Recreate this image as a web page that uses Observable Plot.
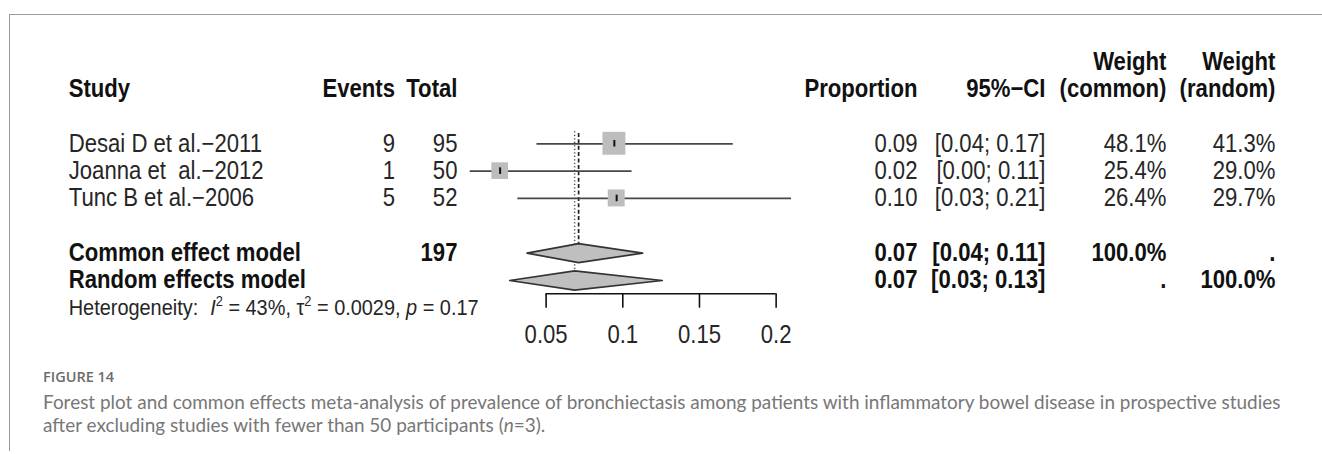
<!DOCTYPE html>
<html><head><meta charset="utf-8">
<script src="https://cdn.jsdelivr.net/npm/d3@7"></script>
<script src="https://cdn.jsdelivr.net/npm/@observablehq/plot@0.6"></script>
<style>
html,body{margin:0;padding:0;background:#fff;overflow:hidden;width:1322px;height:454px;}
#frame{position:absolute;left:9px;top:14px;width:1313px;height:436px;border-top:1px solid #9a9a9a;border-left:1px solid #9a9a9a;}
#chart{position:absolute;left:0;top:0;width:1600px;height:360px;overflow:visible;}
#chart svg{transform-origin:0 0;display:block;max-width:none !important;}
#fig{position:absolute;left:43px;top:367px;font-family:"Open Sans",sans-serif;font-weight:600;font-size:14.5px;line-height:20px;color:#6b6b6b;white-space:nowrap;}
#cap{position:absolute;left:43px;top:390px;font-family:Lato,sans-serif;font-size:18.95px;line-height:23.3px;color:#777;white-space:nowrap;}
</style></head><body>
<div id="frame"></div>
<div id="chart"></div>
<div id="fig">FIGURE 14</div>
<div id="cap">Forest plot and common effects meta-analysis of prevalence of bronchiectasis among patients with inflammatory bowel disease in prospective studies<br>after excluding studies with fewer than 50 participants (<i>n</i>=3).</div>
<script>
// ---- data ----
const studies = ["Desai D et al.\u22122011", "Joanna et\u00a0 al.\u22122012", "Tunc B et al.\u22122006"];
const events = [9, 1, 5];
const totals = [95, 50, 52];
const proportions = [0.0945, 0.0200, 0.0960];
const ciLower = [0.0440, 0.0005, 0.0315];
const ciUpper = [0.1720, 0.1060, 0.2100];
const weightCommon = [48.1, 25.4, 26.4];
const weightRandom = [41.3, 29.0, 29.7];

const models = ["Common effect model", "Random effects model"];
const modelTotals = ["197", ""];
const modelEst = [0.0712, 0.0686];
const modelLower = [0.0375, 0.0262];
const modelUpper = [0.1130, 0.1258];
const modelWeightCommon = ["100.0%", "."];
const modelWeightRandom = [".", "100.0%"];

const axisTicks = [0.05, 0.1, 0.15, 0.2];
const tickLabels = ["0.05", "0.1", "0.15", "0.2"];

const headers = ["Study", "Events", "Total", "Proportion", "95%\u2212CI", "(common)", "(random)"];
const headerTop = ["Weight", "Weight"];
const hetPlain = "Heterogeneity: I2 = 43%, \u03c42 = 0.0029, p = 0.17";

// ---- layout ----
const sx = 0.885;               // horizontal compression of the drawing
const W = 1322, H = 360;
const px = v => v / sx;
const X0 = 469.0, X1 = 775.7;   // pixel positions of 0 and 0.2
const pxPerUnit = (X1 - X0) / 0.2;
const rowPx = 27.34;
const Y0 = 88.6;
const fs = 25, fsHet = 22.5;
const reg = "#262626", bold = "#111";

const studyData = studies.map((s, i) => ({
  row: 2 + i, name: s, events: String(events[i]), total: String(totals[i]),
  est: proportions[i], lo: ciLower[i], hi: ciUpper[i],
  prop: proportions[i].toFixed(2),
  ci: `[${ciLower[i].toFixed(2)}; ${ciUpper[i].toFixed(2)}]`,
  wc: weightCommon[i].toFixed(1) + "%", wr: weightRandom[i].toFixed(1) + "%",
  side: 3.3 * Math.sqrt(weightCommon[i])
}));
const modelData = models.map((m, i) => ({
  row: 6 + i, name: m, total: modelTotals[i], est: modelEst[i], lo: modelLower[i], hi: modelUpper[i],
  prop: modelEst[i].toFixed(2), ci: `[${modelLower[i].toFixed(2)}; ${modelUpper[i].toFixed(2)}]`,
  wc: modelWeightCommon[i], wr: modelWeightRandom[i]
}));
const dh = 0.35;
const diamondPts = modelData.flatMap(d => [
  {m: d.name, x: d.lo, y: d.row}, {m: d.name, x: d.est, y: d.row - dh},
  {m: d.name, x: d.hi, y: d.row}, {m: d.name, x: d.est, y: d.row + dh}
]);
const headerData = [{row: 0}];

function col(data, text, pos, anchor, weight, size) {
  return Plot.text(data, {
    y: "row", text, frameAnchor: "left", dx: px(pos), textAnchor: anchor,
    fontWeight: weight, fill: weight === "bold" ? bold : reg, fontSize: size || fs
  });
}

const axisRow = 7.487, tickEnd = 8.013, tickLabelRow = 9.0;

const plot = Plot.plot({
  width: W / sx, height: H,
  marginLeft: 0, marginRight: 0, marginTop: 0, marginBottom: 0,
  x: {domain: [0, 0.2], range: [px(X0), px(X1)], axis: null},
  y: {domain: [0, 7], range: [Y0, Y0 + 7 * rowPx], axis: null},
  style: {fontFamily: "'Liberation Sans', Arial, Helvetica, sans-serif", background: "transparent", overflow: "visible"},
  marks: [
    // reference lines
    Plot.ruleX([modelEst[1]], {x: d => d, y1: 1.56, y2: 7 - dh, stroke: "#555", strokeWidth: 1.5 / sx, strokeDasharray: "1.3,2.2"}),
    Plot.ruleX([modelEst[0]], {x: d => d, y1: 1.62, y2: 6 - dh, stroke: "#222", strokeWidth: 1.7 / sx, strokeDasharray: "4,2.4"}),
    // study CIs and squares
    Plot.ruleY(studyData, {y: "row", x1: "lo", x2: "hi", stroke: "#474747", strokeWidth: 1.8}),
    Plot.rect(studyData, {
      x1: d => d.est - d.side / 2 / pxPerUnit, x2: d => d.est + d.side / 2 / pxPerUnit,
      y1: d => d.row - d.side / 2 / rowPx, y2: d => d.row + d.side / 2 / rowPx,
      fill: "#bdbdbd"
    }),
    Plot.ruleX(studyData, {x: "est", y1: d => d.row - 0.12, y2: d => d.row + 0.12, stroke: "#111", strokeWidth: 2 / sx}),
    // diamonds
    Plot.line(diamondPts, {x: "x", y: "y", z: "m", curve: "linear-closed", fill: "#bfbfbf", stroke: "#333", strokeWidth: 1.7}),
    // axis
    Plot.ruleY([axisRow], {x1: axisTicks[0], x2: axisTicks[axisTicks.length - 1], stroke: "#111", strokeWidth: 1.6}),
    Plot.ruleX(axisTicks, {x: d => d, y1: axisRow, y2: tickEnd, stroke: "#111", strokeWidth: 1.6 / sx}),
    Plot.text(axisTicks, {x: d => d, y: tickLabelRow, text: (d, i) => tickLabels[i], fontSize: fs, fill: reg}),
    // headers
    col([{row: -1}], () => headerTop[0], 1166, "end", "bold"),
    col([{row: -1}], () => headerTop[1], 1275, "end", "bold"),
    col(headerData, () => headers[0], 68.3, "start", "bold"),
    col(headerData, () => headers[1], 394.5, "end", "bold"),
    col(headerData, () => headers[2], 457, "end", "bold"),
    col(headerData, () => headers[3], 917, "end", "bold"),
    col(headerData, () => headers[4], 1045, "end", "bold"),
    col(headerData, () => headers[5], 1166, "end", "bold"),
    col(headerData, () => headers[6], 1275, "end", "bold"),
    // study rows
    col(studyData, "name", 68.3, "start", "normal"),
    col(studyData, "events", 394.5, "end", "normal"),
    col(studyData, "total", 457, "end", "normal"),
    col(studyData, "prop", 917, "end", "normal"),
    col(studyData, "ci", 1045, "end", "normal"),
    col(studyData, "wc", 1166, "end", "normal"),
    col(studyData, "wr", 1275, "end", "normal"),
    // model rows
    col(modelData, "name", 68.3, "start", "bold"),
    col(modelData, "total", 457, "end", "bold"),
    col(modelData, "prop", 917, "end", "bold"),
    col(modelData, "ci", 1045, "end", "bold"),
    col(modelData, "wc", 1166, "end", "bold"),
    col(modelData, "wr", 1275, "end", "bold"),
    // heterogeneity
    col([{row: 8}], () => hetPlain, 68.3, "start", "normal", fsHet)
  ]
});
plot.style.maxWidth = "none";
plot.style.width = (W / sx) + "px";
plot.style.height = H + "px";
plot.style.transform = `scaleX(${sx})`;
document.getElementById("chart").appendChild(plot);

// rich text for the heterogeneity statement
plot.querySelectorAll("text").forEach(t => {
  if (t.textContent === hetPlain) {
    const ns = "http://www.w3.org/2000/svg";
    t.textContent = "";
    const parts = [
      ["Heterogeneity:", {}], ["I", {"font-style": "italic", dx: 12 / sx}], ["2", {"font-size": 14.5, dy: -9}],
      [" = 43%, \u03c4", {dy: 9}], ["2", {"font-size": 14.5, dy: -9}], [" = 0.0029, ", {dy: 9}],
      ["p", {"font-style": "italic"}], [" = 0.17", {}]
    ];
    for (const [s, attrs] of parts) {
      const ts = document.createElementNS(ns, "tspan");
      for (const k in attrs) ts.setAttribute(k, attrs[k]);
      ts.textContent = s;
      t.appendChild(ts);
    }
  }
});
</script>
</body></html>
